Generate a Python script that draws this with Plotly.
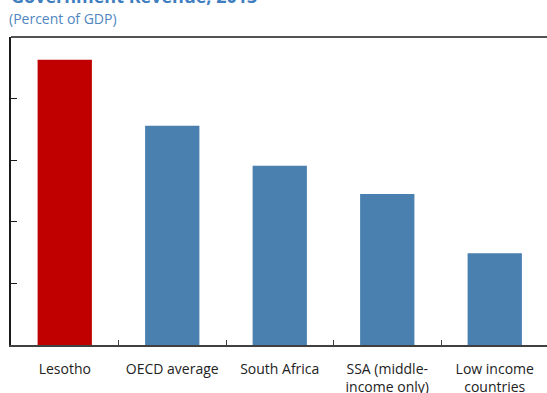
import plotly.graph_objects as go

# Government revenue by country group, percent of GDP
categories = ["Lesotho", "OECD average", "South Africa",
              "SSA (middle-<br>income only)", "Low income<br>countries"]
revenue = [46.3, 35.6, 29.1, 24.5, 14.9]
bar_colors = ["#C00000", "#4A80B0", "#4A80B0", "#4A80B0", "#4A80B0"]
y_ticks = [0, 10, 20, 30, 40, 50]

fig = go.Figure(
    go.Bar(
        x=categories,
        y=revenue,
        marker=dict(color=bar_colors, line=dict(width=0)),
        width=0.505,
        hoverinfo="x+y",
    )
)

fig.update_layout(
    width=547,
    height=393,
    margin=dict(l=11, r=0, t=37, b=48),
    paper_bgcolor="white",
    plot_bgcolor="white",
    showlegend=False,
    font=dict(family="Open Sans, Segoe UI, sans-serif", size=14, color="#222222"),
    xaxis=dict(
        type="category",
        range=[-0.5, 4.486],
        automargin=False,
        showline=True,
        linecolor="#404040",
        linewidth=1.5,
        ticks="inside",
        tickson="boundaries",
        ticklen=5,
        tickcolor="#404040",
        showgrid=False,
        zeroline=False,
        ticklabelstandoff=10,
        tickfont=dict(size=14, color="#222222"),
    ),
    yaxis=dict(
        range=[0, 50],
        tickvals=y_ticks,
        automargin=False,
        showticklabels=False,
        showline=True,
        linecolor="#1a1a1a",
        linewidth=1.5,
        ticks="inside",
        ticklen=6,
        tickcolor="#1a1a1a",
        showgrid=False,
        zeroline=False,
    ),
    shapes=[
        dict(type="line", xref="paper", yref="paper", x0=0, x1=1, y0=1, y1=1,
             line=dict(color="#1a1a1a", width=1.5)),
    ],
    annotations=[
        dict(text="<b>Government Revenue, 2013</b>", xref="paper", yref="paper",
             x=-0.004, y=1.089, xanchor="left", yanchor="bottom", showarrow=False,
             font=dict(size=18, color="#3F7EBF")),
        dict(text="(Percent of GDP)", xref="paper", yref="paper",
             x=-0.008, y=1.022, xanchor="left", yanchor="bottom", showarrow=False,
             font=dict(size=14, color="#4F86C0")),
    ],
)

fig.write_html("out.html")
